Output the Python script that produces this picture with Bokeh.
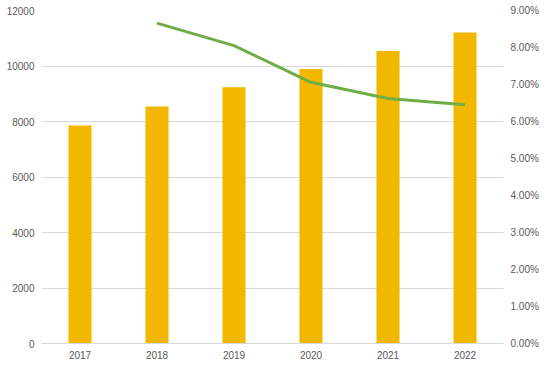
from bokeh.plotting import figure
from bokeh.models import Range1d, FactorRange, LinearAxis, NumeralTickFormatter, FixedTicker, ColumnDataSource
from bokeh.embed import file_html
from bokeh.resources import INLINE

years = ["2017", "2018", "2019", "2020", "2021", "2022"]
values = [7860, 8545, 9236, 9890, 10540, 11210]
rate_years = ["2018", "2019", "2020", "2021", "2022"]
rates = [0.0866, 0.0805, 0.0706, 0.0662, 0.0645]

FONT = "Liberation Sans"
TXT = "#595959"
GRID = "#D9D9D9"

p = figure(width=541, height=364, x_range=FactorRange(*years), y_range=Range1d(0, 12000),
           output_backend="svg", toolbar_location=None,
           min_border_left=41, min_border_right=38, min_border_top=10, min_border_bottom=21)
p.outline_line_color = None
p.xgrid.grid_line_color = None
p.ygrid.grid_line_color = GRID
p.ygrid.ticker = FixedTicker(ticks=list(range(0, 12001, 2000)))

bars = ColumnDataSource(dict(x=years, top=values))
p.vbar(x="x", top="top", width=0.3, source=bars, color="#F2B800", line_color=None)

p.extra_y_ranges = {"pct": Range1d(0, 0.09)}
line_src = ColumnDataSource(dict(x=rate_years, y=rates))
p.line(x="x", y="y", source=line_src, y_range_name="pct", line_color="#70AD47", line_width=3)

ya = p.yaxis[0]
ya.ticker = FixedTicker(ticks=list(range(0, 12001, 2000)))
ra = LinearAxis(y_range_name="pct", ticker=FixedTicker(ticks=[i / 100 for i in range(10)]),
                formatter=NumeralTickFormatter(format="0.00%"))
p.add_layout(ra, "right")

for ax in [ya, ra, p.xaxis[0]]:
    ax.axis_line_color = None
    ax.major_tick_line_color = None
    ax.minor_tick_line_color = None
    ax.major_tick_out = 0
    ax.major_tick_in = 0
    ax.minor_tick_out = 0
    ax.minor_tick_in = 0
    ax.major_label_text_font = FONT
    ax.major_label_text_font_size = "10px"
    ax.major_label_text_color = TXT
    ax.major_label_standoff = 7
p.xaxis[0].axis_line_color = GRID
p.xaxis[0].major_label_standoff = 7

open("out.html", "w").write(file_html(p, INLINE))
